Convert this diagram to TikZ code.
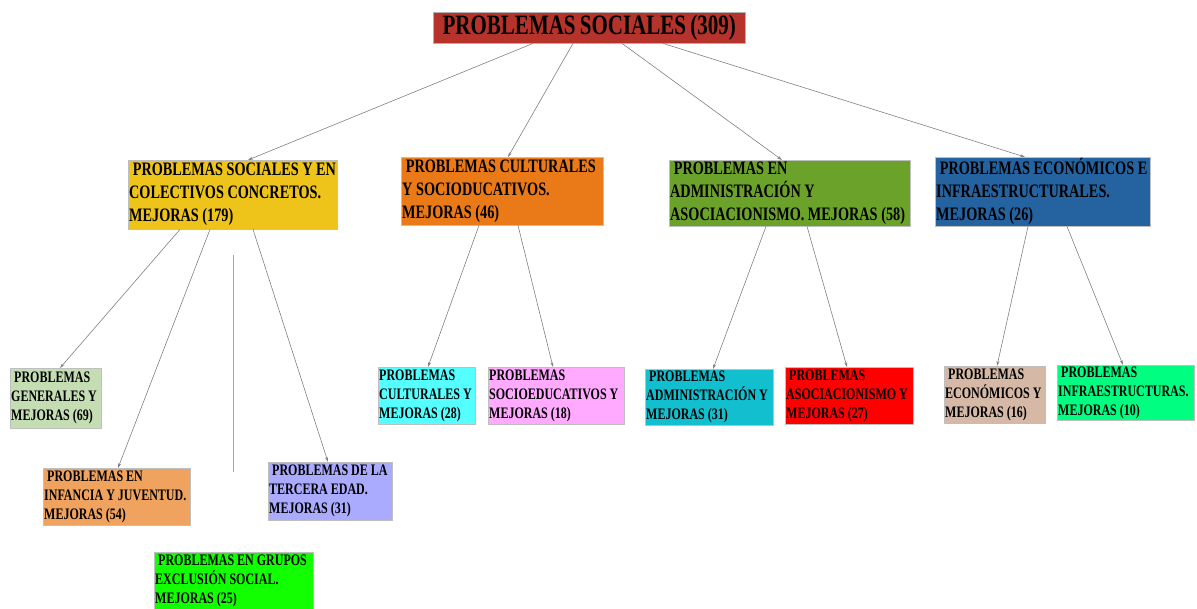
\documentclass[tikz,border=0pt]{standalone}
\usepackage{fontspec}
\setmainfont{Liberation Serif}[FakeStretch=0.75, WordSpace={0.8,0,0}]
\usetikzlibrary{arrows.meta}
\definecolor{rootred}{HTML}{B5332B}
\definecolor{goldbox}{HTML}{EEC41B}
\definecolor{orangebox}{HTML}{E97A17}
\definecolor{olivebox}{HTML}{6BA32A}
\definecolor{bluebox}{HTML}{2563A0}
\definecolor{sagebox}{HTML}{C5DDB3}
\definecolor{peachbox}{HTML}{F0A35E}
\definecolor{limebox}{HTML}{11FF00}
\definecolor{lavenderbox}{HTML}{AAAAFF}
\definecolor{cyanbox}{HTML}{55FFFF}
\definecolor{pinkbox}{HTML}{FFAAFF}
\definecolor{tealbox}{HTML}{11BFCF}
\definecolor{redbox}{HTML}{FF0000}
\definecolor{tanbox}{HTML}{D5B8A5}
\definecolor{springbox}{HTML}{00FF80}

\begin{document}
\begin{tikzpicture}[
  x=1pt, y=-1pt,
  rootbox/.style={draw=black!30, fill=rootred, anchor=north west, inner sep=0pt, align=center, font=\bfseries\fontsize{28}{32}\selectfont},
  groupbox/.style={draw=black!25, anchor=north west, inner sep=1pt, execute at begin node={\raggedright\hyphenpenalty=10000\spaceskip=3.6pt\relax}, font=\bfseries\fontsize{19}{23}\selectfont},
  itembox/.style={draw=black!25, anchor=north west, inner sep=1pt, execute at begin node={\raggedright\hyphenpenalty=10000\spaceskip=3pt\relax}, font=\bfseries\fontsize{16}{19}\selectfont},
  link/.style={-{Stealth[length=5pt,width=3pt]}, gray, line width=0.6pt},
  gapline/.style={gray!70, line width=1pt}
]
\useasboundingbox (0,0) rectangle (1197,608);
\node[rootbox, minimum width=312pt, minimum height=31pt] (root) at (433,12) {PROBLEMAS SOCIALES (309)};

% first level
\node[groupbox, fill=goldbox, text width=207pt, minimum height=69pt] (social) at (128,160) {\ PROBLEMAS SOCIALES Y EN\\COLECTIVOS CONCRETOS.\\MEJORAS (179)};
\node[groupbox, fill=orangebox, text width=200pt, minimum height=68pt] (cultural) at (401,157) {\ PROBLEMAS CULTURALES\\Y SOCIODUCATIVOS.\\MEJORAS (46)};
\node[groupbox, fill=olivebox, text width=239pt, minimum height=66pt] (admin) at (669,160) {\ PROBLEMAS EN\\ADMINISTRACIÓN Y\\ASOCIACIONISMO. MEJORAS (58)};
\node[groupbox, fill=bluebox, text width=213pt, minimum height=69pt] (econ) at (935,157) {\ PROBLEMAS ECONÓMICOS E\\INFRAESTRUCTURALES.\\MEJORAS (26)};

% second level
\node[itembox, fill=sagebox, text width=89pt, minimum height=60pt] (generales) at (10,368) {\ PROBLEMAS\\GENERALES Y\\MEJORAS (69)};
\node[itembox, fill=peachbox, text width=145pt, minimum height=57pt] (infancia) at (43,468) {\ PROBLEMAS EN\\INFANCIA Y JUVENTUD.\\MEJORAS (54)};
\node[itembox, fill=limebox, text width=157pt, minimum height=57pt] (exclusion) at (154,552) {\ PROBLEMAS EN GRUPOS\\EXCLUSIÓN SOCIAL.\\MEJORAS (25)};
\node[itembox, fill=lavenderbox, text width=122pt, minimum height=58pt] (tercera) at (268,462) {\ PROBLEMAS DE LA\\TERCERA EDAD.\\MEJORAS (31)};
\node[itembox, fill=cyanbox, text width=95pt, minimum height=57pt] (culturales) at (378,367) {PROBLEMAS\\CULTURALES Y\\MEJORAS (28)};
\node[itembox, fill=pinkbox, text width=134pt, minimum height=57pt] (socioeduc) at (488,367) {PROBLEMAS\\SOCIOEDUCATIVOS Y\\MEJORAS (18)};
\node[itembox, fill=tealbox, text width=126pt, minimum height=56pt] (administracion) at (645,369) {\ PROBLEMAS\\ADMINISTRACIÓN Y\\MEJORAS (31)};
\node[itembox, fill=redbox, text width=126pt, minimum height=57pt] (asociacionismo) at (785,367) {\ PROBLEMAS\\ASOCIACIONISMO Y\\MEJORAS (27)};
\node[itembox, fill=tanbox, text width=99pt, minimum height=57pt] (economicos) at (944,366) {\ PROBLEMAS\\ECONÓMICOS Y\\MEJORAS (16)};
\node[itembox, fill=springbox, text width=135pt, minimum height=55pt] (infra) at (1057,365) {\ PROBLEMAS\\INFRAESTRUCTURAS.\\MEJORAS (10)};

% connectors
\draw[link] ([xshift=100pt]root.south west) -- ([xshift=120pt]social.north west);
\draw[link] ([xshift=140pt]root.south west) -- ([xshift=107pt]cultural.north west);
\draw[link] ([xshift=189pt]root.south west) -- ([xshift=113pt]admin.north west);
\draw[link] ([xshift=230pt]root.south west) -- ([xshift=90pt]econ.north west);

\draw[link] ([xshift=52pt]social.south west) -- ([xshift=50pt]generales.north west);
\draw[link] ([xshift=82pt]social.south west) -- ([xshift=75pt]infancia.north west);
\draw[link] ([xshift=125pt]social.south west) -- ([xshift=60pt]tercera.north west);
\coordinate (vtop) at ([xshift=105pt,yshift=-26pt]social.south west);
\coordinate (vbot) at ([yshift=-217pt]vtop);
\draw[gapline] (vtop) -- (vbot);

\draw[link] ([xshift=78pt]cultural.south west) -- ([xshift=50pt]culturales.north west);
\draw[link] ([xshift=117pt]cultural.south west) -- ([xshift=65pt]socioeduc.north west);
\draw[link] ([xshift=97pt]admin.south west) -- ([xshift=68pt]administracion.north west);
\draw[link] ([xshift=138pt]admin.south west) -- ([xshift=62pt]asociacionismo.north west);
\draw[link] ([xshift=93pt]econ.south west) -- ([xshift=53pt]economicos.north west);
\draw[link] ([xshift=132pt]econ.south west) -- ([xshift=66pt]infra.north west);
\end{tikzpicture}
\end{document}
